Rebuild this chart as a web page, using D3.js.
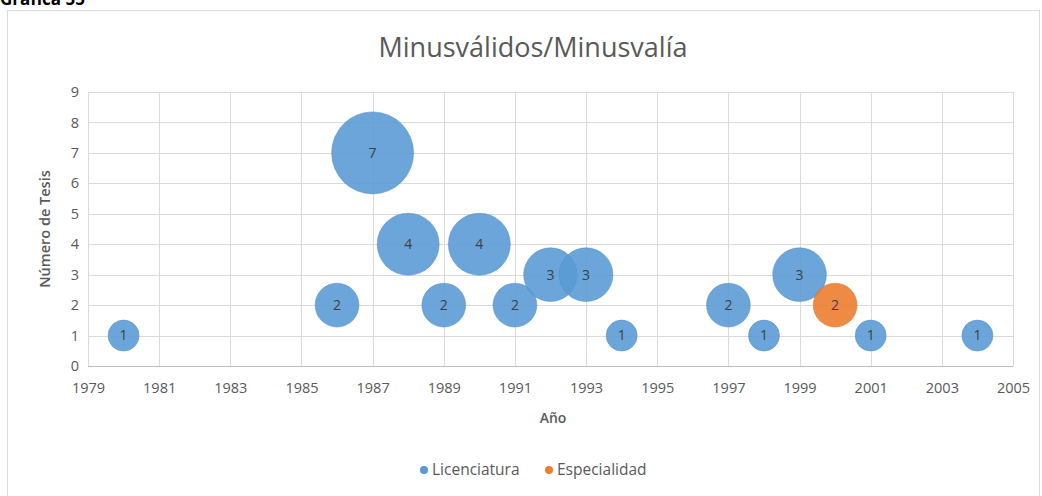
<!DOCTYPE html>
<html>
<head>
<meta charset="utf-8">
<script src="https://cdn.jsdelivr.net/npm/d3@7"></script>
<style>
  body { margin: 0; background: #fff; }
  svg { display: block; font-family: "Open Sans", "Noto Sans", sans-serif; }
</style>
</head>
<body>
<svg id="chart" width="1042" height="496"></svg>
<script>
// ---- data ----
const licYears  = [1980, 1986, 1987, 1988, 1989, 1990, 1991, 1992, 1993, 1994, 1997, 1998, 1999, 2001, 2004];
const licValues = [1,    2,    7,    4,    2,    4,    2,    3,    3,    1,    2,    1,    3,    1,    1];
const espYears  = [2000];
const espValues = [2];
const xTicks = [1979, 1981, 1983, 1985, 1987, 1989, 1991, 1993, 1995, 1997, 1999, 2001, 2003, 2005];
const yTicks = [0, 1, 2, 3, 4, 5, 6, 7, 8, 9];
const seriesNames = ["Licenciatura", "Especialidad"];
const seriesColors = ["#5B9BD5", "#ED7D31"];

const svg = d3.select("#chart");
const plot = {left: 88, right: 1013, top: 92, bottom: 366};

// frame
svg.append("rect").attr("x", 7.5).attr("y", 10.5).attr("width", 1032).attr("height", 500)
  .attr("fill", "#fff").attr("stroke", "#d9d9d9").attr("stroke-width", 1);

// Caption (cut at top, as in the source page)
svg.append("text").attr("x", 0).attr("y", 5).attr("font-size", 17).attr("font-weight", "bold")
  .attr("fill", "#000").text("Gráfica 55");

const x = d3.scaleLinear().domain([1979, 2005]).range([plot.left, plot.right]);
const y = d3.scaleLinear().domain([0, 9]).range([plot.bottom, plot.top]);
const r = d3.scaleSqrt().domain([0, 7]).range([0, 41]);

// grid
const g = svg.append("g");
g.selectAll("line.h").data(yTicks.filter(d => d > 0)).join("line")
  .attr("x1", plot.left).attr("x2", plot.right)
  .attr("y1", d => Math.round(y(d)) + 0.5).attr("y2", d => Math.round(y(d)) + 0.5)
  .attr("stroke", "#d9d9d9");
g.selectAll("line.v").data(xTicks).join("line")
  .attr("y1", plot.top).attr("y2", plot.bottom)
  .attr("x1", d => Math.round(x(d)) + 0.5).attr("x2", d => Math.round(x(d)) + 0.5)
  .attr("stroke", "#d9d9d9");

// axes
const xAxis = d3.axisBottom(x).tickValues(xTicks).tickFormat(d3.format("d")).tickSize(0).tickPadding(17);
const xg = svg.append("g").attr("transform", `translate(0,${plot.bottom})`).call(xAxis);
xg.select(".domain").attr("stroke", "#bfbfbf").attr("d", `M${plot.left},0.5H${plot.right}`);
xg.selectAll("text").attr("font-size", 14.5).attr("fill", "#595959").attr("font-family", "Open Sans");

const yAxis = d3.axisLeft(y).tickValues(yTicks).tickSize(0).tickPadding(9);
const yg = svg.append("g").attr("transform", `translate(${plot.left},0)`).call(yAxis);
yg.select(".domain").remove();
yg.selectAll("text").attr("font-size", 14.5).attr("fill", "#595959").attr("font-family", "Open Sans");

// titles
svg.append("text").attr("x", 533).attr("y", 57).attr("text-anchor", "middle")
  .attr("font-size", 27).attr("fill", "#595959").text("Minusválidos/Minusvalía");
svg.append("text").attr("x", 553).attr("y", 423).attr("text-anchor", "middle")
  .attr("font-size", 14).attr("font-weight", 600).attr("fill", "#595959").text("Año");
svg.append("text").attr("transform", "translate(50,229) rotate(-90)").attr("text-anchor", "middle")
  .attr("font-size", 14.5).attr("font-weight", 600).attr("fill", "#595959").text("Número de Tesis");

// bubbles
const series = [
  {name: seriesNames[0], color: seriesColors[0], pts: licYears.map((yr, i) => ({x: yr, v: licValues[i]}))},
  {name: seriesNames[1], color: seriesColors[1], pts: espYears.map((yr, i) => ({x: yr, v: espValues[i]}))}
];
series.forEach(s => {
  const sg = svg.append("g");
  sg.selectAll("circle").data(s.pts).join("circle")
    .attr("cx", d => x(d.x)).attr("cy", d => y(d.v)).attr("r", d => r(d.v))
    .attr("fill", s.color).attr("fill-opacity", 0.9)
    .attr("stroke", d3.color(s.color).darker(0.3)).attr("stroke-opacity", 0.5);
  sg.selectAll("text").data(s.pts).join("text")
    .attr("x", d => x(d.x)).attr("y", d => y(d.v)).attr("dy", "0.35em")
    .attr("text-anchor", "middle").attr("font-size", 14).attr("fill", "#404040")
    .text(d => d.v);
});

// legend
const leg = [{name: seriesNames[0], color: seriesColors[0], x: 424}, {name: seriesNames[1], color: seriesColors[1], x: 549}];
leg.forEach(l => {
  svg.append("circle").attr("cx", l.x).attr("cy", 470).attr("r", 4).attr("fill", l.color);
  svg.append("text").attr("x", l.x + 8).attr("y", 470).attr("dy", "0.35em")
    .attr("font-size", 15.5).attr("fill", "#595959").text(l.name);
});
</script>
</body>
</html>
